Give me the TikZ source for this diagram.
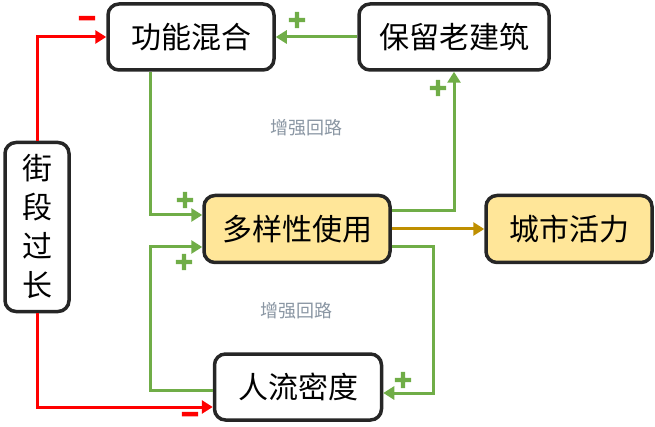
\documentclass[tikz,border=0pt]{standalone}
\usepackage{fontspec}
\newfontfamily\cjk{Noto Sans CJK SC}
\newfontfamily\signfont{DejaVu Sans Bold}
\usetikzlibrary{arrows.meta}
\definecolor{posgreen}{HTML}{70AD47}
\definecolor{neg}{HTML}{FF0000}
\definecolor{gold}{HTML}{BF8F00}
\definecolor{boxfill}{HTML}{FFE699}
\definecolor{boxline}{HTML}{262626}
\definecolor{loopgray}{HTML}{8A96A3}
% thicker sign glyphs: fill and stroke the outline
\newcommand{\heavysign}[1]{\special{pdf:literal direct 2 Tr 1.8 w}#1\special{pdf:literal direct 0 Tr 1 w}}
\begin{document}
\begin{tikzpicture}[x=1pt, y=-1pt,
    box/.style={draw=boxline, line width=3.5pt, rounded corners=11pt, fill=white,
                inner sep=0pt, font=\cjk\fontsize{30}{34}\selectfont},
    hot/.style={box, fill=boxfill},
    link/.style={line width=3pt, -{Triangle[length=11pt,width=13pt]}},
    plus/.style={link, posgreen},
    minus/.style={link, neg},
    sign/.style={font=\signfont\fontsize{23}{23}\selectfont, inner sep=0pt},
    looplabel/.style={text=loopgray, font=\cjk\fontsize{18}{20}\selectfont}]
  \useasboundingbox (0,0) rectangle (655,427);
  \node [box, minimum width=166pt, minimum height=66pt] (gong) at (191,37) {功能混合};
  \node [box, minimum width=190pt, minimum height=66pt] (bao) at (454,37) {保留老建筑};
  \node [box, minimum width=64pt, minimum height=169pt, align=center,
         font=\cjk\fontsize{30}{39}\selectfont] (jie) at (37,227) {街\\段\\过\\长};
  \node [hot, minimum width=186pt, minimum height=67pt] (duo) at (297,229) {多样性使用};
  \node [hot, minimum width=166pt, minimum height=67pt] (cheng) at (569,229) {城市活力};
  \node [box, minimum width=167pt, minimum height=66pt] (ren) at (298,387) {人流密度};
  \node [looplabel] (loopA) at (306,128) {增强回路};
  \node [looplabel] (loopB) at (296,311) {增强回路};
  % negative links
  \draw [minus] (jie.north) |- (gong.west);
  \draw [minus] (jie.south) |- ([yshift=-20pt]ren.west);
  % positive links
  \draw [plus] (bao) -- (gong);
  \draw [plus] ([xshift=-41pt]gong.south) |- ([yshift=14pt]duo.west);
  \draw [plus] ([yshift=-3pt]ren.west) -- ++(-62,0) |- ([yshift=-18pt]duo.west);
  \draw [plus] ([yshift=18pt]duo.east) -| (bao.south);
  \draw [plus] ([yshift=-18pt]duo.east) -- ++(42,0) |- ([yshift=-6pt]ren.east);
  \draw [link, gold] (duo) -- (cheng);
  % signs
  \node [sign, text=neg] (m1) at (87,21) {\heavysign{−}};
  \node [sign, text=neg] (m2) at (190,417) {\heavysign{−}};
  \node [sign, text=posgreen] (p1) at (297,20) {\heavysign{+}};
  \node [sign, text=posgreen] (p2) at (185,200) {\heavysign{+}};
  \node [sign, text=posgreen] (p3) at (184,262) {\heavysign{+}};
  \node [sign, text=posgreen] (p4) at (438,88) {\heavysign{+}};
  \node [sign, text=posgreen] (p5) at (403,380) {\heavysign{+}};
\end{tikzpicture}
\end{document}
